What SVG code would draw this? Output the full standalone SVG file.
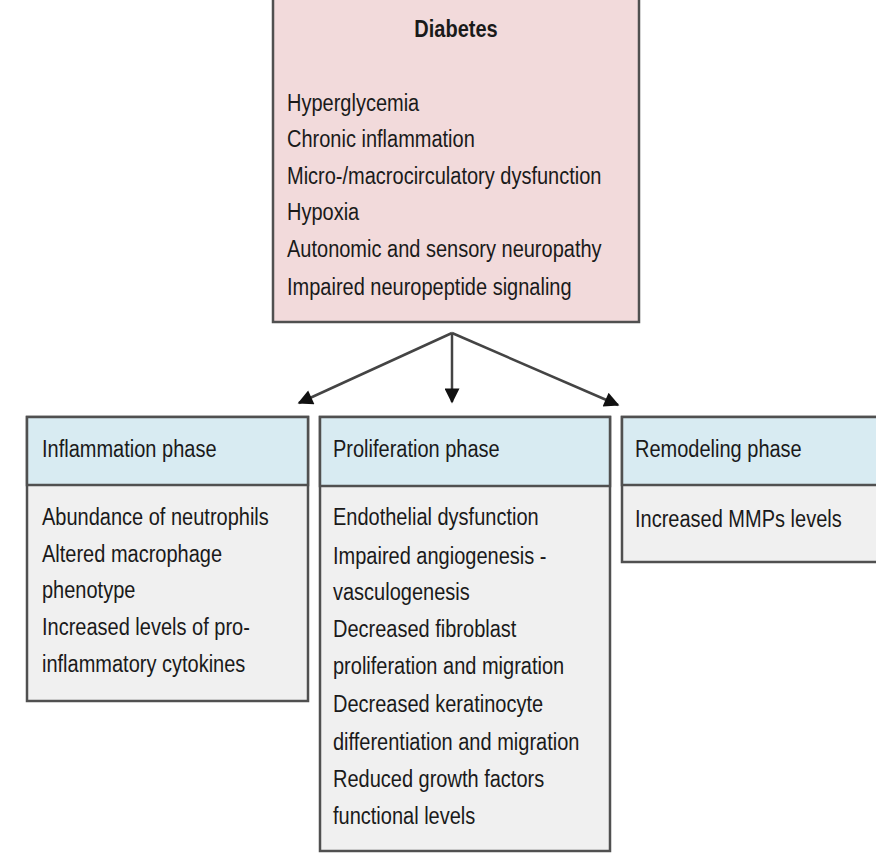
<svg xmlns="http://www.w3.org/2000/svg" width="876" height="854" viewBox="0 0 876 854">
<defs>
<style>
text{font-family:"Liberation Sans",Arial,sans-serif;font-size:20px;fill:#1a1a1a}
.title{font-weight:bold}
.box{stroke:#505050;stroke-width:2.5}
.pink{fill:#f2dadb}
.head{fill:#d8ebf2}
.body{fill:#f0f0f0}
.conn{stroke:#444;stroke-width:2.5;fill:none}
</style>
<marker id="ah" viewBox="0 0 10 10" refX="9" refY="5" markerWidth="6.5" markerHeight="6" orient="auto" markerUnits="strokeWidth">
<path d="M0,0 L10,5 L0,10 z" fill="#111"/>
</marker>
</defs>
<rect width="876" height="854" fill="#fff"/>
<g id="diabetes">
<rect class="box pink" x="273" y="-3" width="366" height="325"/>
<text class="title" text-anchor="middle" transform="translate(456,37) scale(1,1.15)">Diabetes</text>
<text transform="translate(287,111) scale(1,1.15)">Hyperglycemia</text>
<text transform="translate(287,147) scale(1,1.15)">Chronic inflammation</text>
<text transform="translate(287,184) scale(1,1.15)">Micro-/macrocirculatory dysfunction</text>
<text transform="translate(287,220) scale(1,1.15)">Hypoxia</text>
<text transform="translate(287,257) scale(1,1.15)">Autonomic and sensory neuropathy</text>
<text transform="translate(287,295) scale(1,1.15)">Impaired neuropeptide signaling</text>
</g>
<g id="connectors">
<path class="conn" d="M452,333 L299,403" marker-end="url(#ah)"/>
<path class="conn" d="M452,333 L452,402" marker-end="url(#ah)"/>
<path class="conn" d="M452,333 L618,405" marker-end="url(#ah)"/>
</g>
<g id="inflammation">
<rect class="box body" x="27" y="417" width="281" height="284"/>
<rect class="box head" x="27" y="417" width="281" height="68"/>
<text transform="translate(42,457) scale(1,1.15)">Inflammation phase</text>
<text transform="translate(42,525) scale(1,1.15)">Abundance of neutrophils</text>
<text transform="translate(42,562) scale(1,1.15)">Altered macrophage</text>
<text transform="translate(42,598) scale(1,1.15)">phenotype</text>
<text transform="translate(42,635) scale(1,1.15)">Increased levels of pro-</text>
<text transform="translate(42,672) scale(1,1.15)">inflammatory cytokines</text>
</g>
<g id="proliferation">
<rect class="box body" x="320" y="417" width="290" height="434"/>
<rect class="box head" x="320" y="417" width="290" height="69"/>
<text transform="translate(333,457) scale(1,1.15)">Proliferation phase</text>
<text transform="translate(333,525) scale(1,1.15)">Endothelial dysfunction</text>
<text transform="translate(333,564) scale(1,1.15)">Impaired angiogenesis -</text>
<text transform="translate(333,600) scale(1,1.15)">vasculogenesis</text>
<text transform="translate(333,637) scale(1,1.15)">Decreased fibroblast</text>
<text transform="translate(333,674) scale(1,1.15)">proliferation and migration</text>
<text transform="translate(333,712) scale(1,1.15)">Decreased keratinocyte</text>
<text transform="translate(333,750) scale(1,1.15)">differentiation and migration</text>
<text transform="translate(333,787) scale(1,1.15)">Reduced growth factors</text>
<text transform="translate(333,824) scale(1,1.15)">functional levels</text>
</g>
<g id="remodeling">
<rect class="box body" x="622" y="417" width="260" height="145"/>
<rect class="box head" x="622" y="417" width="260" height="68"/>
<text transform="translate(635,457) scale(1,1.15)">Remodeling phase</text>
<text transform="translate(635,527) scale(1,1.15)">Increased MMPs levels</text>
</g>
</svg>
